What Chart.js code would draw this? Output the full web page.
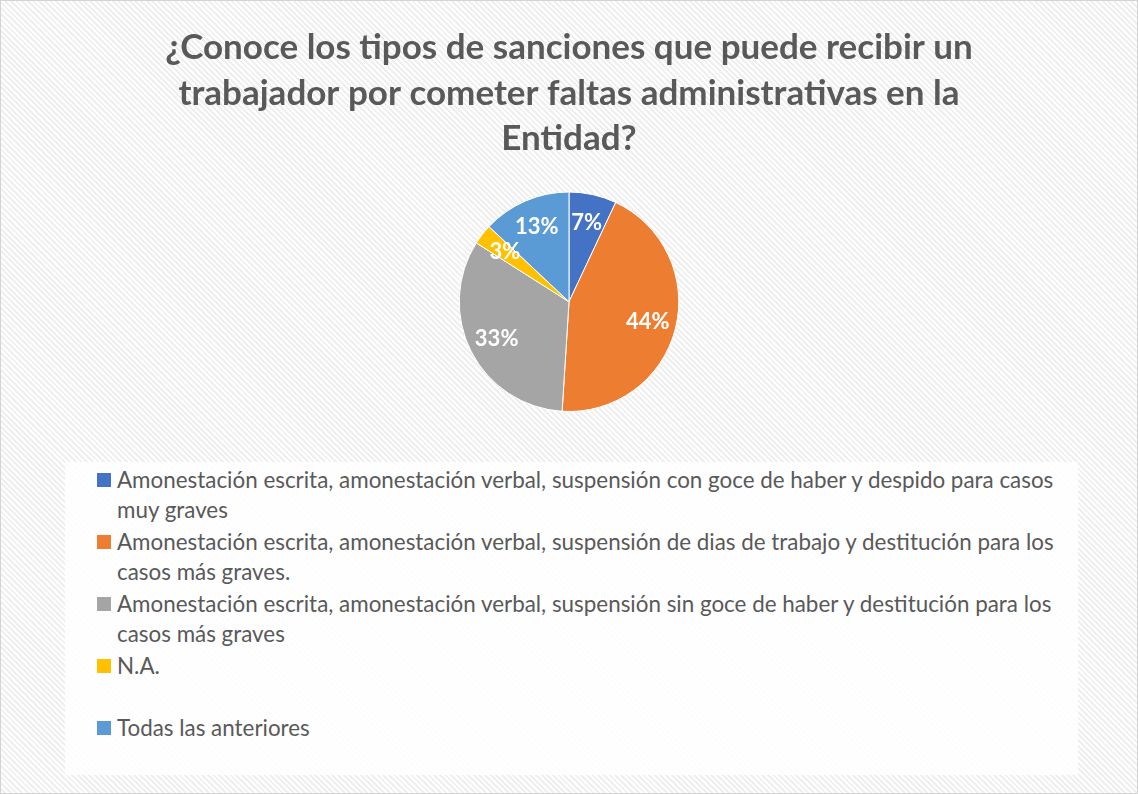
<!DOCTYPE html>
<html><head><meta charset="utf-8">
<script src="https://cdn.jsdelivr.net/npm/chart.js@4"></script>
<style>
html,body{margin:0;padding:0;}
body{width:1138px;height:794px;overflow:hidden;font-family:Lato,"Open Sans",sans-serif;}
#frame{position:absolute;left:0;top:0;width:1136px;height:792px;border:1px solid #d4d4d4;
 background:repeating-linear-gradient(45deg,#ffffff 0px,#ffffff 2px,#efefef 2px,#efefef 4px);}
#chartBox{position:absolute;left:0;top:0;width:1138px;height:414px;}
#legend{position:absolute;left:65px;top:462px;width:1013px;height:313px;background:rgba(255,255,255,0.85);}
.item{position:absolute;left:32px;height:62px;}
.sw{position:absolute;left:0;top:8px;width:14px;height:14px;}
.txt{position:absolute;left:20px;top:0;white-space:nowrap;color:#595959;font-size:22.4px;line-height:30px;}
</style></head>
<body>
<div id="frame"></div>
<div id="chartBox"><canvas id="c"></canvas></div>
<div id="legend"></div>
<script>
const titleLines = ["¿Conoce los tipos de sanciones que puede recibir un","trabajador por cometer faltas administrativas en la","Entidad?"];
const categories = [
 ["Amonestación escrita, amonestación verbal, suspensión con goce de haber y despido para casos","muy graves"],
 ["Amonestación escrita, amonestación verbal, suspensión de dias de trabajo y destitución para los","casos más graves."],
 ["Amonestación escrita, amonestación verbal, suspensión sin goce de haber y destitución para los","casos más graves"],
 ["N.A."],
 ["Todas las anteriores"]
];
const values = [7, 44, 33, 3, 13];
const colors = ["#4472C4","#ED7D31","#A5A5A5","#FFC000","#5B9BD5"];

const labelPlugin = {
  id:'sliceLabels',
  afterDatasetsDraw(chart){
    const ctx = chart.ctx;
    const meta = chart.getDatasetMeta(0);
    const total = values.reduce((a,b)=>a+b,0);
    ctx.save();
    ctx.fillStyle = '#ffffff';
    ctx.font = 'bold 22px Lato, "Open Sans", sans-serif';
    ctx.textAlign = 'center';
    ctx.textBaseline = 'middle';
    meta.data.forEach((arc,i)=>{
      const p = arc.getProps(['x','y','startAngle','endAngle','outerRadius'],true);
      const mid = (p.startAngle+p.endAngle)/2;
      const r = p.outerRadius*0.74;
      const pct = Math.round(values[i]/total*100)+'%';
      ctx.fillText(pct, p.x+Math.cos(mid)*r, p.y+Math.sin(mid)*r);
    });
    ctx.restore();
  }
};

new Chart(document.getElementById('c'), {
  type:'pie',
  data:{labels:categories, datasets:[{data:values, backgroundColor:colors, borderColor:'#ffffff', borderWidth:1}]},
  options:{
    responsive:true, maintainAspectRatio:false, animation:false,
    layout:{padding:{top:0,bottom:2,left:0,right:0}},
    plugins:{
      legend:{display:false},
      tooltip:{enabled:false},
      title:{display:true, text:titleLines, color:'#595959',
        font:{family:'Lato, "Open Sans", sans-serif', size:35, weight:'bold', lineHeight:1.3},
        padding:{top:25,bottom:30}}
    }
  },
  plugins:[labelPlugin]
});

const leg = document.getElementById('legend');
categories.forEach((lab,i)=>{
  const it = document.createElement('div');
  it.className='item';
  it.style.top = (3 + i*62)+'px';
  const sw = document.createElement('div'); sw.className='sw'; sw.style.background=colors[i];
  const tx = document.createElement('div'); tx.className='txt';
  tx.innerHTML = lab.join('<br>');
  it.appendChild(sw); it.appendChild(tx); leg.appendChild(it);
});
</script>
</body></html>
